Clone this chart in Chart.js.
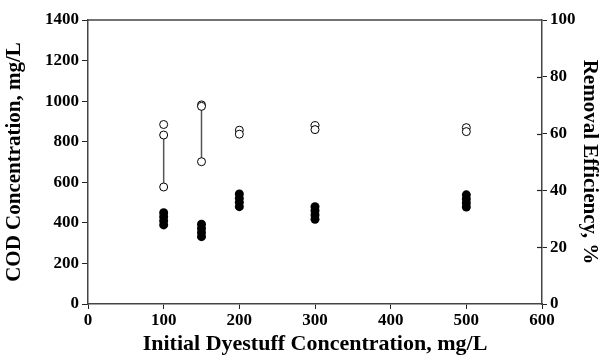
<!DOCTYPE html>
<html>
<head>
<meta charset="utf-8">
<script src="https://cdn.jsdelivr.net/npm/chart.js@4/dist/chart.umd.min.js"></script>
<style>
  html, body { margin: 0; padding: 0; background: #fff; }
  #wrap { position: relative; width: 606px; height: 358px; }
</style>
</head>
<body>
<div id="wrap"><canvas id="chart"></canvas></div>
<script>
// initial dyestuff concentrations, mg/L
const dyeConc = [100, 150, 200, 300, 500];

// COD concentration, mg/L (filled markers, left axis)
const cod100 = [450, 430, 410, 390];
const cod150 = [393, 372, 352, 332];
const cod200 = [542, 521, 501, 480];
const cod300 = [480, 460, 439, 418];
const cod500 = [538, 518, 498, 478];

// removal efficiency, % (open markers, right axis)
const rem100 = [63.2, 59.5, 41.2];
const rem150 = [70.1, 69.6, 50.1];
const rem200 = [61.2, 59.8];
const rem300 = [62.8, 61.4];
const rem500 = [62.1, 60.7];

const codTicks = [0, 200, 400, 600, 800, 1000, 1200, 1400];
const remTicks = [0, 20, 40, 60, 80, 100];
const xTicks = [0, 100, 200, 300, 400, 500, 600];

const codSets = [cod100, cod150, cod200, cod300, cod500];
const remSets = [rem100, rem150, rem200, rem300, rem500];

const codPoints = [];
codSets.forEach((arr, i) => arr.forEach(v => codPoints.push({ x: dyeConc[i], y: v })));
const remPoints = [];
remSets.forEach((arr, i) => arr.forEach(v => remPoints.push({ x: dyeConc[i], y: v })));

// vertical range lines joining the lowest open marker to the one above it
const range100 = [{ x: 100, y: rem100[2] }, { x: 100, y: rem100[1] }];
const range150 = [{ x: 150, y: rem150[2] }, { x: 150, y: rem150[1] }];

const serif = "'Liberation Serif', 'Times New Roman', serif";
const tickFont = { family: serif, size: 17, weight: "bold" };
const sideTitleFont = { family: serif, size: 21, weight: "bold" };
const bottomTitleFont = { family: serif, size: 22, weight: "bold" };
const plainLabel = v => String(v);

// top frame line + inward ticks on the right axis
const framePlugin = {
  id: "frame",
  afterDraw(chart) {
    const { ctx, chartArea } = chart;
    const y2 = chart.scales.y2;
    ctx.save();
    ctx.strokeStyle = "#444";
    ctx.lineWidth = 1.5;
    ctx.beginPath();
    ctx.moveTo(chartArea.left, chartArea.top);
    ctx.lineTo(chartArea.right, chartArea.top);
    ctx.stroke();
    ctx.strokeStyle = "#222";
    ctx.lineWidth = 1.2;
    remTicks.forEach(v => {
      if (v === 0 || v === 100) return;
      const py = Math.round(y2.getPixelForValue(v)) + 0.5;
      ctx.beginPath();
      ctx.moveTo(chartArea.right - 5, py);
      ctx.lineTo(chartArea.right, py);
      ctx.stroke();
    });
    ctx.restore();
  }
};

new Chart(document.getElementById("chart"), {
  type: "scatter",
  data: {
    datasets: [
      {
        label: "Removal Efficiency",
        data: remPoints,
        yAxisID: "y2",
        pointRadius: 4,
        pointBorderWidth: 1,
        pointBackgroundColor: "#fff",
        pointBorderColor: "#000",
        order: 1
      },
      {
        label: "COD",
        data: codPoints,
        yAxisID: "y",
        pointRadius: 4.5,
        pointBorderWidth: 0,
        pointBackgroundColor: "#000",
        pointBorderColor: "#000",
        order: 2
      },
      {
        type: "line",
        data: range100,
        yAxisID: "y2",
        borderColor: "#555",
        borderWidth: 1.5,
        pointRadius: 0,
        order: 3
      },
      {
        type: "line",
        data: range150,
        yAxisID: "y2",
        borderColor: "#555",
        borderWidth: 1.5,
        pointRadius: 0,
        order: 3
      }
    ]
  },
  options: {
    responsive: true,
    maintainAspectRatio: false,
    animation: false,
    layout: { padding: { top: 20, left: 0, right: 0, bottom: 0 } },
    plugins: {
      legend: { display: false },
      tooltip: { enabled: false }
    },
    scales: {
      x: {
        type: "linear",
        min: 0,
        max: 600,
        afterBuildTicks: s => { s.ticks = xTicks.map(v => ({ value: v })); },
        afterFit: s => { s.height = 54; },
        border: { display: true, color: "#444", width: 1.5 },
        grid: { display: true, drawOnChartArea: false, drawTicks: true, tickLength: 5, color: "#222" },
        ticks: { color: "#000", font: tickFont, padding: 1, maxRotation: 0, callback: plainLabel },
        title: { display: true, text: "Initial Dyestuff Concentration, mg/L", color: "#000", font: bottomTitleFont, padding: { top: 0, bottom: 0 } }
      },
      y: {
        type: "linear",
        position: "left",
        min: 0,
        max: 1400,
        afterBuildTicks: s => { s.ticks = codTicks.map(v => ({ value: v })); },
        afterFit: s => { s.width = 88; },
        border: { display: true, color: "#444", width: 1.5 },
        grid: { display: true, drawOnChartArea: false, drawTicks: true, tickLength: 6, color: "#222" },
        ticks: { color: "#000", font: tickFont, padding: 3, callback: plainLabel },
        title: { display: true, text: "COD Concentration, mg/L", color: "#000", font: sideTitleFont, padding: { top: 2, bottom: 4 } }
      },
      y2: {
        type: "linear",
        position: "right",
        min: 0,
        max: 100,
        afterBuildTicks: s => { s.ticks = remTicks.map(v => ({ value: v })); },
        afterFit: s => { s.width = 64; },
        border: { display: true, color: "#444", width: 1.5 },
        grid: { display: true, drawOnChartArea: false, drawTicks: true, tickLength: 5, color: "#222" },
        ticks: { color: "#000", font: tickFont, padding: 3, callback: plainLabel },
        title: { display: true, text: "Removal Efficiency, %", color: "#000", font: sideTitleFont, padding: { top: 4, bottom: 2 } }
      }
    }
  },
  plugins: [framePlugin]
});
</script>
</body>
</html>
